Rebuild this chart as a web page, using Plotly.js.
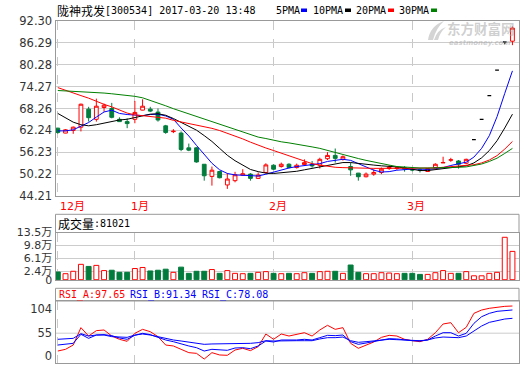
<!DOCTYPE html>
<html><head><meta charset="utf-8">
<script src="https://cdn.plot.ly/plotly-3.0.1.min.js"></script>
<style>html,body{margin:0;padding:0;background:#fff}#chart{width:520px;height:365px}</style>
</head><body><div id="chart"></div>
<script>
// ---------- data ----------
const stockName = '陇神戎发';
const stockCode = '[300534]';
const stamp = '2017-03-20 13:48';
const dates = ['2016-12-19','2016-12-20','2016-12-21','2016-12-22','2016-12-23','2016-12-26','2016-12-27','2016-12-28','2016-12-29','2016-12-30',
 '2017-01-03','2017-01-04','2017-01-05','2017-01-06','2017-01-09','2017-01-10','2017-01-11','2017-01-12','2017-01-13','2017-01-16',
 '2017-01-17','2017-01-18','2017-01-19','2017-01-20','2017-01-23','2017-01-24','2017-01-25','2017-01-26',
 '2017-02-03','2017-02-06','2017-02-07','2017-02-08','2017-02-09','2017-02-10','2017-02-13','2017-02-14','2017-02-15','2017-02-16',
 '2017-02-17','2017-02-20','2017-02-21','2017-02-22','2017-02-23','2017-02-24','2017-02-27','2017-02-28',
 '2017-03-01','2017-03-02','2017-03-03','2017-03-06','2017-03-07','2017-03-08','2017-03-09','2017-03-10','2017-03-13','2017-03-14',
 '2017-03-15','2017-03-16','2017-03-17','2017-03-20'];
const open  = [62.85,61.50,62.22,63.12,68.08,65.28,68.53,68.26,65.28,64.65,65.28,67.81,68.08,67.27,63.48,61.90,61.50,57.44,57.44,52.93,
 49.59,50.94,47.24,48.42,49.95,50.22,49.05,50.67,52.66,52.30,52.93,52.02,52.84,52.93,52.66,54.46,55.36,54.28,52.30,50.49,
 49.50,50.22,50.67,51.75,51.75,52.00,51.55,51.40,50.94,52.02,53.30,54.05,53.83,53.20,59.69,65.28,71.78,78.81,86.57,86.75];
const high  = [62.95,62.60,63.30,69.60,68.71,70.97,69.61,69.80,65.83,65.55,70.34,70.79,68.71,68.26,63.75,62.58,61.95,58.61,57.62,52.95,
 52.30,51.12,50.49,50.85,51.57,50.49,50.67,53.20,52.93,53.38,53.20,53.11,54.28,53.83,54.73,56.26,57.26,55.36,53.38,50.55,
 50.67,51.57,52.02,52.66,52.30,52.40,51.80,51.75,51.90,53.20,55.00,54.70,54.10,54.46,59.69,65.28,71.78,78.81,86.57,90.81];
const low   = [61.30,61.45,61.30,61.95,64.65,64.65,67.35,65.55,64.60,62.85,64.20,67.75,67.27,64.65,61.30,61.50,56.53,56.53,53.38,48.42,
 47.06,49.05,46.16,47.97,49.77,48.42,48.87,50.40,51.39,52.02,51.84,51.75,52.48,52.02,51.75,54.10,53.38,53.92,49.77,48.42,
 49.32,49.77,50.22,51.39,51.40,50.90,51.00,50.67,50.80,51.84,53.30,53.60,51.75,52.93,59.69,65.28,71.78,78.81,85.90,85.67];
const close = [61.68,62.40,63.12,69.43,65.73,68.89,69.16,65.83,64.65,64.11,67.17,68.89,67.54,65.10,61.68,62.00,56.99,56.81,53.56,49.77,
 51.30,49.23,48.87,50.04,50.31,49.05,49.95,52.75,51.57,52.93,52.02,52.66,53.38,52.48,54.28,55.36,54.55,55.00,51.39,49.50,
 50.22,50.67,51.57,52.05,51.95,51.60,51.35,51.25,51.75,52.93,53.40,54.15,52.93,54.28,59.69,65.28,71.78,78.81,86.57,90.36];
const ma5  = [62.1,62.1,62.4,63.5,64.4,65.9,67.3,67.8,66.9,66.6,66.4,66.3,66.6,66.7,66.2,65.3,62.9,60.7,58.1,55.6,
 53.2,51.4,50.4,50.0,49.9,49.8,49.7,50.2,50.8,51.4,51.9,52.3,52.6,52.7,53.1,53.7,54.1,54.3,54.0,53.1,
 52.1,51.3,50.8,50.9,51.3,51.5,51.6,51.6,51.5,51.7,52.0,52.6,53.0,53.5,54.9,57.3,60.8,66.0,72.4,78.6];
const ma10 = [66.9,65.8,64.5,63.8,63.5,63.8,64.3,64.7,65.1,65.3,65.8,66.2,66.7,66.8,66.4,65.5,64.4,63.4,62.3,60.8,
 59.2,57.3,55.4,53.9,52.7,51.5,50.9,50.5,50.4,50.6,50.7,51.0,51.4,51.8,52.1,52.7,53.1,53.4,53.4,53.1,
 52.9,52.7,52.5,52.4,52.2,51.9,51.5,51.2,51.2,51.5,51.8,52.1,52.3,52.5,53.3,54.7,56.7,59.4,62.9,66.7];
const ma20 = [74.0,73.2,72.5,71.8,71.1,70.2,69.4,68.7,67.8,67.0,66.5,66.3,66.2,66.0,65.6,65.0,64.6,64.1,63.7,63.3,
 62.8,62.2,61.5,60.6,59.9,59.0,58.1,57.4,56.7,56.0,55.2,54.5,53.8,53.1,52.7,52.3,52.1,52.0,51.9,51.85,
 51.8,51.8,51.8,51.8,51.75,51.75,51.7,51.7,51.8,51.9,52.1,52.3,52.4,52.5,52.8,53.3,54.1,55.3,57.1,59.2];
const ma30 = [73.2,73.1,73.0,72.9,72.8,72.7,72.5,72.3,72.1,71.9,71.6,71.2,70.5,69.9,69.0,68.2,67.5,66.8,66.0,65.4,
 64.7,63.9,63.2,62.4,61.7,61.0,60.4,60.0,59.5,59.1,58.8,58.5,58.1,57.7,57.3,56.7,56.2,55.5,55.0,54.5,
 54.0,53.5,53.0,52.7,52.3,52.1,52.0,51.9,51.9,51.9,52.0,52.0,52.1,52.2,52.5,53.0,53.7,54.6,55.9,57.3];
const volume = [22100,17200,24100,44000,38000,41000,26100,27100,21100,21100,32000,35000,25100,27100,30100,21100,36000,18200,24100,24100,
 29100,18200,26100,18200,17200,18200,21100,23100,18200,17200,18200,17200,20100,18200,23100,24100,24100,18200,42000,21100,
 17200,17200,20100,19100,17200,18200,18200,15200,15200,20100,26100,18200,18200,23100,11200,11200,18200,21100,121300,81021];
const rsiA = [26.2,28.9,35.7,63.3,50.0,58.5,59.6,50.0,44.8,41.6,54.3,60.6,56.9,49.0,35.7,34.2,28.9,23.6,22.5,13.5,
 23.6,19.9,19.4,27.8,30.5,26.8,33.1,53.2,44.8,53.2,50.0,52.7,55.3,50.0,59.6,67.0,60.6,63.3,38.4,30.5,
 35.2,40.5,47.9,51.1,50.0,44.8,42.6,41.0,44.8,55.3,69.1,71.2,55.3,63.8,86.0,91.3,94.0,96.1,97.1,97.65];
const rsiB = [35.7,36.8,38.4,52.7,46.3,51.6,52.2,50.6,46.9,44.8,51.1,54.3,52.2,47.9,43.7,41.0,37.4,34.2,31.5,26.2,
 28.9,27.8,27.3,31.0,31.5,29.9,34.2,42.1,40.5,43.7,43.2,43.7,44.8,43.7,47.4,51.1,50.6,51.6,41.0,36.8,
 38.9,41.6,44.2,45.8,45.3,43.7,42.6,42.1,43.7,50.0,55.3,55.3,50.0,54.3,70.1,80.7,86.0,89.2,90.8,91.34];
const rsiC = [44.8,45.3,46.3,53.7,50.0,51.6,51.6,49.0,47.9,47.9,51.6,53.2,51.6,49.0,45.3,43.7,42.1,40.5,38.9,36.8,
 37.4,37.4,37.4,37.9,38.4,38.4,39.5,42.6,42.1,42.6,42.6,42.6,42.6,42.6,45.3,47.4,47.4,48.4,42.6,40.0,
 41.0,42.1,43.7,44.8,44.2,43.7,43.2,42.6,43.7,46.9,48.4,48.4,47.4,50.0,58.5,65.9,71.7,74.9,77.0,78.08];
const priceTicks = [44.21,50.22,56.23,62.24,68.26,74.27,80.28,86.29,92.30];
const volTicks = [0,24000,61000,98000,135000];
const volTickText = ['0','2.4万','6.1万','9.8万','13.5万'];
const rsiTickPos = [18.8,54.5,92.4];
const rsiTickText = ['0','55','104'];
const monthDates = ['2016-12-19','2017-01-03','2017-02-03','2017-03-01'];
const monthLabels = ['12月','1月','2月','3月'];
const maNames = ['5PMA','10PMA','20PMA','30PMA'];

// ---------- styling ----------
const RED = '#ff0000', GREEN = '#027c3c', BLUE = '#0000ff';
const maColors = [BLUE, '#000000', RED, '#008000'];
const W = 520, H = 365;
const px = x => x / W, py = y => 1 - y / H;
const X0 = px(55.5), X1 = px(519);
const MONO = 'DejaVu Sans Mono, Noto Sans CJK SC';
const CJK = 'Noto Sans CJK SC';
const TICKF = {family: 'DejaVu Sans, Noto Sans CJK SC', size: 11.5, color: '#333'};

const n = dates.length;
const idx = dates.map((d, i) => i);
const flat = idx.map(i => open[i] === close[i] && close[i] === high[i]);
const pick = (arr, want) => idx.filter(i => flat[i] === want).map(i => arr[i]);

const traces = [];
traces.push({type: 'candlestick', x: pick(dates, false), open: pick(open, false), high: pick(high, false),
  low: pick(low, false), close: pick(close, false), xaxis: 'x', yaxis: 'y', whiskerwidth: 0, hoverinfo: 'skip',
  increasing: {line: {color: RED, width: 1}, fillcolor: '#ffffff'},
  decreasing: {line: {color: GREEN, width: 1}, fillcolor: GREEN}});
traces.push({type: 'candlestick', x: pick(dates, true), open: pick(open, true), high: pick(high, true),
  low: pick(low, true), close: pick(close, true), xaxis: 'x', yaxis: 'y', whiskerwidth: 0, hoverinfo: 'skip',
  increasing: {line: {color: '#000', width: 1.3}, fillcolor: '#000'},
  decreasing: {line: {color: '#000', width: 1.3}, fillcolor: '#000'}});
[ma5, ma10, ma20, ma30].forEach((m, k) => traces.push({type: 'scatter', mode: 'lines', x: dates, y: m,
  xaxis: 'x', yaxis: 'y', line: {color: maColors[k], width: 1}, hoverinfo: 'skip'}));
const up = idx.map(i => close[i] >= open[i]);
traces.push({type: 'bar', x: dates, y: volume, xaxis: 'x2', yaxis: 'y2', width: 0.64, hoverinfo: 'skip',
  marker: {color: up.map(u => u ? '#ffffff' : GREEN), line: {color: up.map(u => u ? RED : GREEN), width: 1}}});
[[rsiA, RED], [rsiB, BLUE], [rsiC, BLUE]].forEach(([r, c]) => traces.push({type: 'scatter', mode: 'lines',
  x: dates, y: r, xaxis: 'x3', yaxis: 'y3', line: {color: c, width: 1}, hoverinfo: 'skip'}));

const xBase = () => ({type: 'category', categoryorder: 'array', categoryarray: dates, range: [-0.3, 59.85],
  tickvals: monthDates, showticklabels: false, ticks: '', showgrid: true, gridcolor: '#c8c8c8', griddash: 'dash',
  gridwidth: 1, showline: true, mirror: true, linecolor: '#999', linewidth: 1, zeroline: false,
  rangeslider: {visible: false}, fixedrange: true, domain: [X0, X1]});
const yBase = () => ({showline: true, mirror: true, linecolor: '#999', linewidth: 1, ticks: '', showgrid: true,
  gridcolor: '#cccccc', gridwidth: 1, zeroline: false, tickfont: TICKF, fixedrange: true});

const ann = [];
const txt = (t, x, y, font, extra) => ann.push(Object.assign({text: t, x: px(x), y: py(y), xref: 'paper', yref: 'paper',
  xanchor: 'left', yanchor: 'middle', showarrow: false, font: font, borderpad: 0}, extra || {}));
// title line
txt(stockName, 56, 10, {family: CJK, size: 12, color: '#000'});
txt(stockCode + ' ' + stamp, 104, 10, {family: MONO, size: 10, color: '#000'});
const maX = [275, 312, 355, 398], sqX = [301, 345, 388, 431];
maNames.forEach((nm, k) => txt(nm, maX[k], 10, {family: MONO, size: 10, color: '#000'}));
// watermark
txt('东方财富网', 446, 28.5, {family: CJK, size: 13.5, color: 'rgba(160,160,160,0.5)', weight: 'bold'});
txt('eastmoney.com', 448, 42.5, {family: 'DejaVu Sans', size: 7, color: 'rgba(160,160,160,0.5)', weight: 'bold', style: 'italic'});
// month labels
const mShift = [1.5, -5, -5.5, -6];
monthDates.forEach((d, k) => ann.push({text: monthLabels[k], x: d, xref: 'x', y: py(206.7), yref: 'paper',
  xanchor: 'left', yanchor: 'middle', xshift: mShift[k], showarrow: false, borderpad: 0,
  font: {family: 'DejaVu Sans, Noto Sans CJK SC', size: 11, color: RED}}));
// volume header
txt('成交量', 57, 223.3, {family: CJK, size: 12, color: '#000'});
txt(':' + volume[n - 1], 92.5, 223.3, {family: MONO, size: 10, color: '#000'});
// RSI header
const last = a => a[a.length - 1].toFixed(2);
txt('RSI_A:' + last(rsiA), 57.5, 294.8, {family: MONO, size: 10, color: RED});
txt('RSI_B:' + last(rsiB), 129, 294.8, {family: MONO, size: 10, color: BLUE});
txt('RSI_C:' + last(rsiC), 201, 294.8, {family: MONO, size: 10, color: BLUE});

const shapes = [];
const rect = (x0, y0, x1, y1, opts) => shapes.push(Object.assign({type: 'rect', xref: 'paper', yref: 'paper',
  x0: px(x0), x1: px(x1), y0: py(y1), y1: py(y0)}, opts));
rect(55.5, 214.3, 519, 232.5, {line: {color: '#999', width: 1}});
rect(55.5, 288.3, 519, 301, {line: {color: '#999', width: 1}});
sqX.forEach((x, k) => rect(x, 8.5, x + 6, 12, {line: {width: 0}, fillcolor: maColors[k]}));
shapes.push({type: 'line', xref: 'paper', yref: 'y3', x0: X0, x1: X1, y0: rsiTickPos[1], y1: rsiTickPos[1],
  line: {color: '#cccccc', width: 1}, layer: 'below'});
// watermark swoosh (decoration)
const P = (x, y) => px(x).toFixed(4) + ',' + py(y).toFixed(4);
shapes.push({type: 'path', xref: 'paper', yref: 'paper', layer: 'above', line: {width: 0},
  fillcolor: 'rgba(160,160,160,0.45)',
  path: 'M' + P(428, 40) + ' Q' + P(430, 26) + ' ' + P(444, 21) + ' Q' + P(436, 28) + ' ' + P(433, 40) + ' Z'});
shapes.push({type: 'path', xref: 'paper', yref: 'paper', layer: 'above', line: {width: 0},
  fillcolor: 'rgba(160,160,160,0.45)',
  path: 'M' + P(434, 40) + ' Q' + P(437, 30) + ' ' + P(446, 27) + ' Q' + P(440, 32) + ' ' + P(438, 40) + ' Z'});

const layout = {
  width: W, height: H, margin: {l: 0, r: 0, t: 0, b: 0}, paper_bgcolor: '#fff', plot_bgcolor: '#fff',
  showlegend: false, hovermode: false,
  xaxis: Object.assign(xBase(), {anchor: 'y'}),
  xaxis2: Object.assign(xBase(), {anchor: 'y2'}),
  xaxis3: Object.assign(xBase(), {anchor: 'y3'}),
  yaxis: Object.assign(yBase(), {domain: [py(196), py(21)], range: [44.205, 92.305], tickvals: priceTicks,
    tickformat: '.2f', anchor: 'x'}),
  yaxis2: Object.assign(yBase(), {domain: [py(280), py(232.5)], range: [-800, 135000.5], tickvals: volTicks,
    ticktext: volTickText, anchor: 'x2', tickfont: Object.assign({}, TICKF, {size: 11})}),
  yaxis3: Object.assign(yBase(), {domain: [py(363.3), py(301)], range: [6.7, 105.6], tickvals: rsiTickPos,
    ticktext: rsiTickText, showgrid: false, anchor: 'x3'}),
  annotations: ann, shapes: shapes
};
Plotly.newPlot('chart', traces, layout, {staticPlot: true});
</script></body></html>
